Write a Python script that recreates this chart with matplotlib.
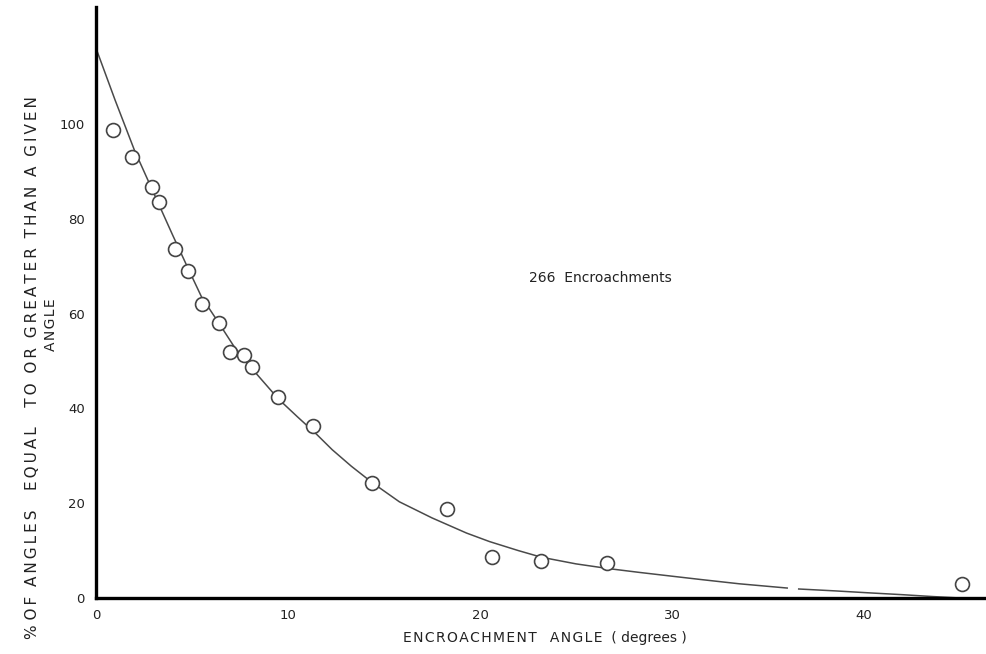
import matplotlib
matplotlib.use('Agg')
import matplotlib.pyplot as plt

# observed points (angle in degrees, % of angles >= given angle)
angle = [0.9, 1.9, 2.9, 3.3, 4.1, 4.8, 5.5, 6.4, 7.0, 7.7, 8.1, 9.5, 11.3, 14.4,
         18.3, 20.6, 23.2, 26.6, 45.1]
pct = [98.7, 93.0, 86.7, 83.5, 73.6, 69.0, 62.0, 58.0, 51.9, 51.3, 48.7, 42.4, 36.3, 24.3,
       18.8, 8.7, 7.8, 7.4, 3.0]

# hand-drawn fitted curve (drawn in two pieces, small gap near 36)
curve_x1 = [0, 1.0, 2.0, 3.0, 4.0, 4.8, 5.5, 6.4, 7.2, 8.1, 9.5, 10.5, 11.5, 12.3, 13.3, 14.4,
            15.8, 17.5, 19.3, 20.5, 22.0, 23.2, 25.0, 26.7, 28.3, 30.0, 31.5, 33.5, 36.0]
curve_y1 = [116, 105, 94.5, 85.5, 76.5, 69.5, 63.5, 58, 53, 48.5, 42, 38.2, 34.5, 31.3, 27.8, 24.3,
            20.3, 16.9, 13.7, 11.9, 10.0, 8.6, 7.2, 6.2, 5.4, 4.6, 3.9, 3.0, 2.1]
curve_x2 = [36.6, 38.5, 40.2, 42.0, 43.6, 45.0]
curve_y2 = [1.9, 1.5, 1.1, 0.7, 0.3, 0.0]

xticks = [0, 10, 20, 30, 40]
yticks = [0, 20, 40, 60, 80, 100]


def spaced(s, sp='\u200a'):
    # the original lettering is widely tracked
    return sp.join(s)


fig = plt.figure(figsize=(9.87, 6.54), dpi=100)
ax = fig.add_axes([96/987, 56/654, 888/987, 591/654])

ax.plot(curve_x1, curve_y1, color='#4a4a4a', lw=1.1, solid_joinstyle='round')
ax.plot(curve_x2, curve_y2, color='#4a4a4a', lw=1.1, solid_joinstyle='round')
ax.plot(angle, pct, 'o', mfc='white', mec='#444444', mew=1.2, ms=10, ls='none', zorder=3)

ax.set_xlim(0, 46.25)
ax.set_ylim(0, 124.7)
ax.set_xticks(xticks)
ax.set_yticks(yticks)
ax.tick_params(length=0, labelsize=9.5, colors='#222222', pad=8)
ax.spines['top'].set_visible(False)
ax.spines['right'].set_visible(False)
ax.spines['left'].set_linewidth(2.4)
ax.spines['bottom'].set_linewidth(2.4)

ax.text(22.55, 67.5, '266  Encroachments', fontsize=10, color='#222222', va='center')

fig.text(545/987, 1 - 638/654, spaced('ENCROACHMENT') + '   ' + spaced('ANGLE') + '  ( degrees )',
         ha='center', va='center', fontsize=10, color='#222222')
ts = '\u2009'
ylab = ('% ' + spaced('OF', ts) + '  ' + spaced('ANGLES', ts) + '    ' + spaced('EQUAL', ts) + '    '
        + spaced('TO', ts) + '  ' + spaced('OR', ts) + '  ' + spaced('GREATER', ts) + '  '
        + spaced('THAN', ts) + '  A  ' + spaced('GIVEN', ts))
fig.text(33/987, 1 - 368/654, ylab, rotation=90, ha='center', va='center', fontsize=11,
         color='#222222')
fig.text(51/987, 1 - 325/654, spaced('ANGLE'), rotation=90, ha='center', va='center',
         fontsize=10, color='#222222')

fig.savefig('out.png', dpi=100)
